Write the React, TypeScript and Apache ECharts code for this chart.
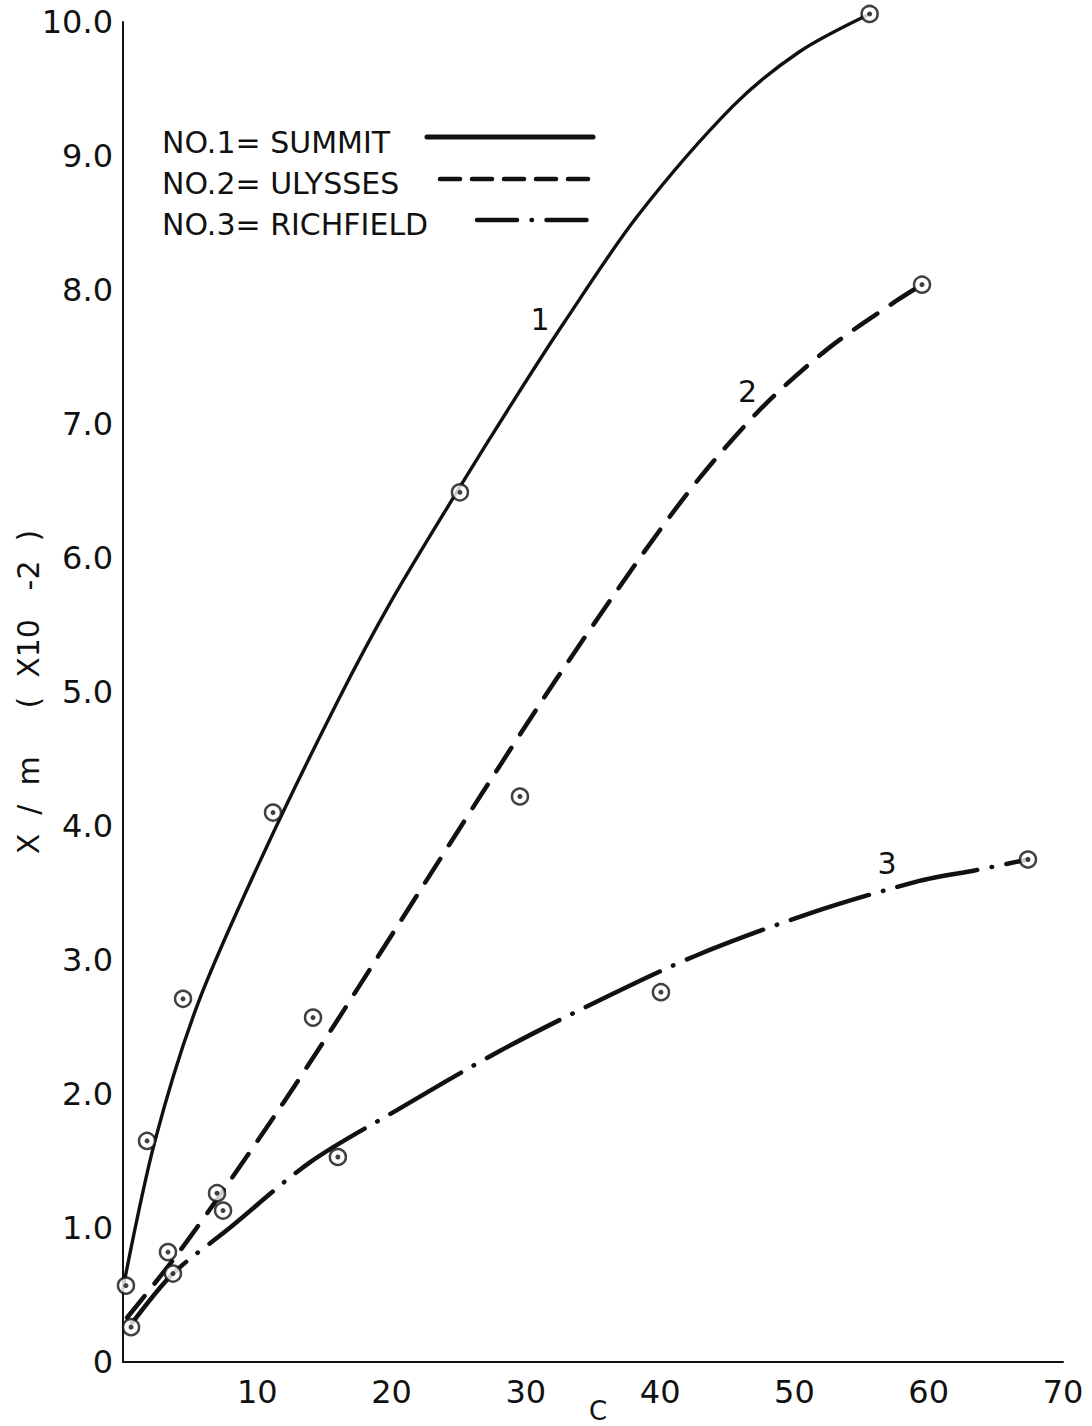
import React, { useEffect, useRef } from "react";
import * as echarts from "echarts";

// Axis ranges / ticks
const xMin = 0;
const xMax = 70;
const xInterval = 10;
const yMin = 0;
const yMax = 10;
const yInterval = 1;

// Legend / series names
const seriesNames = ["NO.1= SUMMIT", "NO.2= ULYSSES", "NO.3= RICHFIELD"];
const curveLabels = ["1", "2", "3"];

// Measured points (C, X/m x10^-2)
const summitPoints: [number, number][] = [
  [0.22, 0.57], [1.79, 1.65], [4.47, 2.71], [11.17, 4.1], [25.09, 6.49], [55.6, 10.06],
];
const ulyssesPoints: [number, number][] = [
  [0.6, 0.26], [3.35, 0.82], [7.0, 1.26], [14.15, 2.57], [29.56, 4.22], [59.5, 8.04],
];
const richfieldPoints: [number, number][] = [
  [3.72, 0.66], [7.45, 1.13], [16.0, 1.53], [40.06, 2.76], [67.39, 3.75],
];

// Hand-drawn fitted curves
const summitCurve: [number, number][] = [
  [0, 0.55], [2.38, 1.65], [5.6, 2.68], [10.4, 3.78], [15.93, 4.92], [20.1, 5.7],
  [25.09, 6.53], [29.0, 7.16], [32.8, 7.75], [38.3, 8.55], [45.4, 9.37], [50.4, 9.78],
  [55.6, 10.06],
];
const ulyssesCurve: [number, number][] = [
  [0.3, 0.33], [4.02, 0.8], [7.74, 1.32], [11.91, 1.93], [15.64, 2.5], [20.48, 3.26],
  [27.1, 4.3], [32.3, 5.1], [38.7, 6.03], [42.96, 6.6], [47.66, 7.13], [52.6, 7.57],
  [57.6, 7.92], [59.5, 8.04],
];
const richfieldCurve: [number, number][] = [
  [0.67, 0.29], [3.72, 0.66], [7.82, 0.99], [13.92, 1.49], [20.4, 1.88],
  [27.85, 2.31], [35.3, 2.69], [42.6, 3.03], [51.2, 3.35], [59.3, 3.59], [63.5, 3.67],
  [67.39, 3.75],
];

// Positions of the curve number labels (data coords)
const curveLabelCoords: [number, number][] = [
  [31.05, 7.78], [46.5, 7.24], [56.9, 3.72],
];

const INK = "#111";
const FONT = "DejaVu Sans";

const lineStyles = [
  { color: INK, width: 3.4, type: "solid" as any, cap: "round" as any },
  { color: INK, width: 4.5, type: [28, 16] as any, cap: "round" as any },
  { color: INK, width: 4.5, type: [82, 14.5, 0.5, 14.5] as any, cap: "round" as any },
];

export default function App() {
  const ref = useRef<HTMLDivElement>(null);

  useEffect(() => {
    if (!ref.current) return;
    const chart = echarts.init(ref.current, undefined, { renderer: "svg" });

    const curves = [summitCurve, ulyssesCurve, richfieldCurve];
    const pointSets = [summitPoints, ulyssesPoints, richfieldPoints];

    const lineSeries = curves.map((c, i) => ({
      name: seriesNames[i],
      type: "line",
      data: c,
      smooth: 0.3,
      symbol: "none",
      clip: false,
      lineStyle: lineStyles[i],
      z: 3,
      markPoint: {
        symbol: "circle",
        symbolSize: 0,
        data: [{ coord: curveLabelCoords[i], value: curveLabels[i] }],
        label: {
          show: true,
          formatter: curveLabels[i],
          color: INK,
          fontFamily: FONT,
          fontSize: 30,
          position: "inside",
        },
      },
    }));

    const ringSeries = pointSets.map((p, i) => ({
      name: seriesNames[i] + " points",
      type: "scatter",
      data: p,
      symbol: "circle",
      symbolSize: 16,
      clip: false,
      itemStyle: { color: "#fff", borderColor: INK, borderWidth: 2.5 },
      z: 5,
    }));
    const dotSeries = pointSets.map((p, i) => ({
      name: seriesNames[i] + " centres",
      type: "scatter",
      data: p,
      symbol: "circle",
      symbolSize: 5,
      clip: false,
      itemStyle: { color: INK },
      z: 6,
    }));

    // Legend drawn as graphic (text + sample line)
    const legendRows = [
      { y: 144, lineY: 137, x1: 427 },
      { y: 185, lineY: 179, x1: 440 },
      { y: 226, lineY: 220, x1: 477 },
    ];
    const legendGraphics: any[] = [];
    legendRows.forEach((r, i) => {
      legendGraphics.push({
        type: "text",
        left: 162,
        top: r.y - 17,
        style: { text: seriesNames[i], fill: INK, font: `30px "${FONT}"` },
      });
      legendGraphics.push({
        type: "line",
        shape: { x1: r.x1, y1: r.lineY, x2: 593, y2: r.lineY },
        style: {
          stroke: INK,
          lineWidth: i === 0 ? 5 : 4.5,
          lineDash: i === 0 ? null : i === 1 ? [20, 12] : [40, 14.5, 0.5, 14.5],
          lineCap: "round",
        },
      });
    });

    chart.setOption({
      animation: false,
      backgroundColor: "#fff",
      grid: {
        left: 123,
        right: 29,
        top: 22,
        bottom: 64,
        containLabel: false,
        outerBoundsMode: "none",
      },
      xAxis: {
        type: "value",
        min: xMin,
        max: xMax,
        interval: xInterval,
        name: "C",
        nameLocation: "middle",
        nameGap: 36,
        nameMoveOverlap: false,
        nameTextStyle: { fontFamily: FONT, fontSize: 26, color: INK, padding: [0, 0, 0, 10] },
        axisLine: { show: true, lineStyle: { color: INK, width: 2 } },
        axisTick: { show: false },
        splitLine: { show: false },
        axisLabel: {
          showMinLabel: false,
          margin: 14,
          fontFamily: FONT,
          fontSize: 32,
          color: INK,
        },
      },
      yAxis: {
        type: "value",
        min: yMin,
        max: yMax,
        interval: yInterval,
        name: "X  /  m     (  X10   -2  )",
        nameLocation: "middle",
        nameRotate: 90,
        nameGap: 80,
        nameMoveOverlap: false,
        nameTextStyle: { fontFamily: FONT, fontSize: 30, color: INK },
        axisLine: { show: true, lineStyle: { color: INK, width: 2 } },
        axisTick: { show: false },
        splitLine: { show: false },
        axisLabel: {
          margin: 10,
          fontFamily: FONT,
          fontSize: 32,
          color: INK,
          formatter: (v: number) => (v === 0 ? "0" : v.toFixed(1)),
        },
      },
      graphic: legendGraphics,
      series: [...lineSeries, ...ringSeries, ...dotSeries],
    });

    return () => chart.dispose();
  }, []);

  return (
    <div
      ref={ref}
      style={{ position: "fixed", left: 0, top: 0, width: 1092, height: 1426, background: "#fff" }}
    />
  );
}
